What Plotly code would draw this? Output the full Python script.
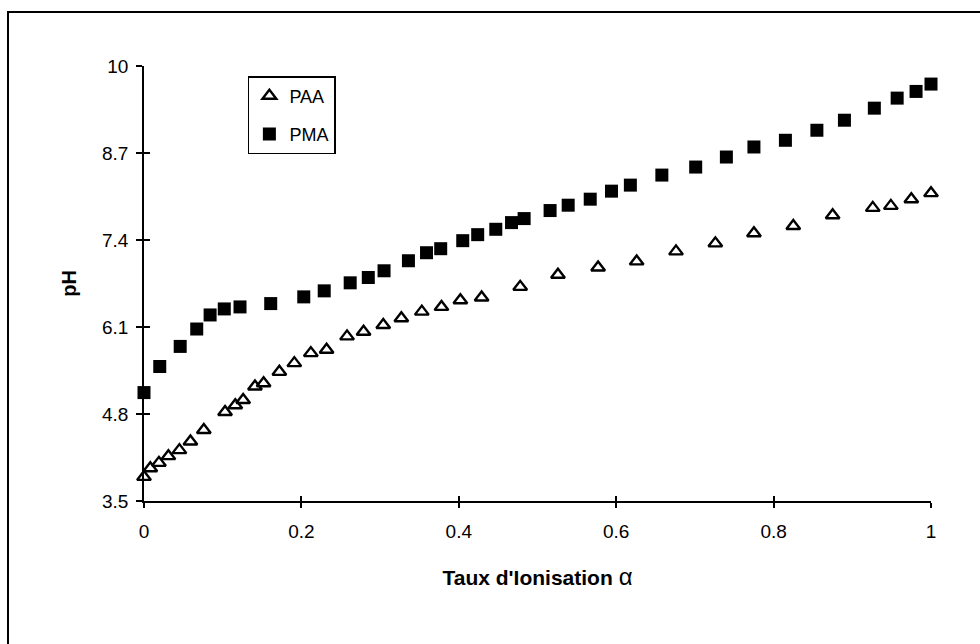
import plotly.graph_objects as go

# ---- data ----
paa_alpha = [0, 0.008, 0.019, 0.031, 0.045, 0.059, 0.076, 0.103, 0.116, 0.126, 0.141, 0.152,
             0.172, 0.191, 0.212, 0.232, 0.258, 0.279, 0.304, 0.327, 0.353, 0.378, 0.402, 0.429,
             0.478, 0.526, 0.577, 0.626, 0.676, 0.726, 0.775, 0.825, 0.875, 0.926, 0.949, 0.975, 1.0]
paa_ph = [3.86, 3.99, 4.07, 4.17, 4.26, 4.39, 4.56, 4.83, 4.93, 5.01, 5.21, 5.26,
          5.43, 5.56, 5.71, 5.76, 5.96, 6.03, 6.13, 6.23, 6.33, 6.40, 6.50, 6.54,
          6.70, 6.88, 6.99, 7.08, 7.23, 7.35, 7.50, 7.61, 7.77, 7.88, 7.91, 8.01, 8.10]

pma_alpha = [0, 0.020, 0.046, 0.067, 0.084, 0.102, 0.122, 0.161, 0.203, 0.229, 0.262, 0.285,
             0.305, 0.336, 0.359, 0.377, 0.405, 0.424, 0.447, 0.467, 0.483, 0.516, 0.539, 0.567,
             0.594, 0.618, 0.658, 0.701, 0.740, 0.775, 0.815, 0.855, 0.890, 0.928, 0.957, 0.981, 1.0]
pma_ph = [5.12, 5.51, 5.81, 6.07, 6.28, 6.37, 6.40, 6.45, 6.55, 6.64, 6.76, 6.84,
          6.94, 7.09, 7.21, 7.27, 7.39, 7.48, 7.56, 7.66, 7.72, 7.84, 7.92, 8.01,
          8.13, 8.22, 8.37, 8.49, 8.64, 8.79, 8.89, 9.04, 9.19, 9.37, 9.52, 9.62, 9.73]

x_ticks = [0, 0.2, 0.4, 0.6, 0.8, 1]
x_ticklabels = ["0", "0.2", "0.4", "0.6", "0.8", "1"]
y_ticks = [3.5, 4.8, 6.1, 7.4, 8.7, 10]
y_ticklabels = ["3.5", "4.8", "6.1", "7.4", "8.7", "10"]

FONT = "Liberation Sans, Arial, sans-serif"

fig = go.Figure()
fig.add_trace(go.Scatter(
    x=paa_alpha, y=paa_ph, mode="markers", name="PAA", legendgroup="a",
    marker=dict(symbol="triangle-up-open", size=12, color="black", line=dict(width=2.4, color="black")),
    cliponaxis=False,
))
fig.add_trace(go.Scatter(
    x=pma_alpha, y=pma_ph, mode="markers", name="PMA", legendgroup="b",
    marker=dict(symbol="square", size=13, color="black", line=dict(width=0)),
    cliponaxis=False,
))
# helper trace for the overlay axes (inner halves of the crossing ticks)
fig.add_trace(go.Scatter(x=[None], y=[None], xaxis="x2", yaxis="y2",
                         showlegend=False, hoverinfo="skip"))

axis_common = dict(showgrid=False, zeroline=False, showline=True, linecolor="black",
                   linewidth=1.5, tickcolor="black", tickwidth=1.5,
                   tickfont=dict(family=FONT, size=19, color="black"))

fig.update_layout(
    width=980, height=644,
    margin=dict(l=144, r=49, t=66, b=143),
    paper_bgcolor="white", plot_bgcolor="white",
    font=dict(family=FONT, color="black"),
    xaxis=dict(range=[0, 1], tickvals=x_ticks, ticktext=x_ticklabels,
               ticks="outside", ticklen=5, ticklabelstandoff=7, **axis_common,
               title=dict(text="<b>Taux d'Ionisation</b> <span style='font-size:24px'>α</span>",
                          font=dict(family=FONT, size=21, color="black"), standoff=30)),
    yaxis=dict(range=[3.5, 10], tickvals=y_ticks, ticktext=y_ticklabels,
               ticks="outside", ticklen=6, ticklabelstandoff=4, **axis_common,
               title=dict(text="<b>pH</b>", font=dict(family=FONT, size=20, color="black"),
                          standoff=20)),
    xaxis2=dict(overlaying="x", anchor="y2", side="bottom", range=[0, 1], tickvals=x_ticks,
                showticklabels=False, ticks="inside", ticklen=5, showgrid=False, zeroline=False,
                showline=False, tickcolor="black", tickwidth=1.5),
    yaxis2=dict(overlaying="y", anchor="x2", side="left", range=[3.5, 10], tickvals=y_ticks,
                showticklabels=False, ticks="inside", ticklen=6, showgrid=False, zeroline=False,
                showline=False, tickcolor="black", tickwidth=1.5),
    legend=dict(x=0.132, y=0.977, xanchor="left", yanchor="top",
                bgcolor="white", bordercolor="black", borderwidth=1.5,
                font=dict(family=FONT, size=18, color="black"),
                tracegroupgap=12, itemwidth=30),
    showlegend=True,
    shapes=[dict(type="rect", xref="paper", yref="paper",
                 x0=(8 - 144) / 787, x1=(990 - 144) / 787,
                 y0=(501 - 660) / 435, y1=1 + (66 - 12) / 435,
                 line=dict(color="black", width=2), fillcolor="rgba(0,0,0,0)", layer="below")],
)

fig.write_html("out.html")
